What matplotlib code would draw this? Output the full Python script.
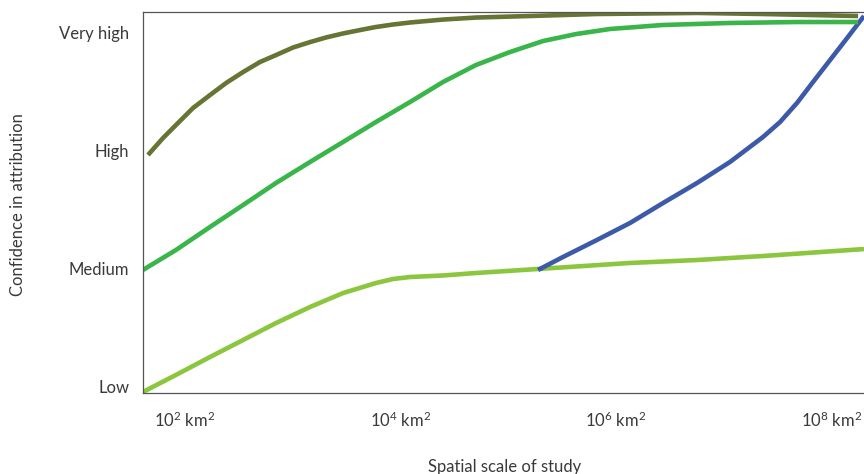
import numpy as np
import matplotlib.pyplot as plt

plt.rcParams['font.family'] = ['Lato', 'DejaVu Sans']
plt.rcParams['mathtext.fontset'] = 'custom'
plt.rcParams['mathtext.rm'] = 'Lato'

# log10 of area (km^2) and confidence (0=Low ... 3=Very high)
olive_lx = [1.656, 1.796, 1.916, 2.074, 2.232, 2.381, 2.539, 2.696, 2.845, 3.003,
            3.161, 3.309, 3.467, 3.625, 3.773, 3.931, 4.089, 4.396, 4.702, 5.203,
            5.825, 6.754, 7.367, 8.249]
olive_y = [1.964, 2.108, 2.218, 2.362, 2.472, 2.574, 2.667, 2.752, 2.811, 2.875,
           2.921, 2.960, 2.994, 3.023, 3.049, 3.070, 3.087, 3.112, 3.129, 3.142,
           3.159, 3.168, 3.159, 3.142]

green_lx = [1.610, 1.916, 2.232, 2.539, 2.845, 3.161, 3.467, 3.773, 4.089, 4.396,
            4.702, 5.018, 5.324, 5.630, 5.946, 6.438, 7.060, 7.682, 8.249]
green_y = [0.990, 1.159, 1.354, 1.540, 1.727, 1.905, 2.074, 2.244, 2.413, 2.583,
           2.727, 2.837, 2.930, 2.989, 3.032, 3.066, 3.083, 3.091, 3.091]

light_lx = [1.610, 1.916, 2.232, 2.539, 2.845, 3.161, 3.467, 3.773, 3.931, 4.089,
            4.396, 4.702, 5.278, 6.132, 6.754, 7.367, 8.304]
light_y = [-0.044, 0.100, 0.252, 0.396, 0.540, 0.676, 0.794, 0.879, 0.913, 0.930,
           0.943, 0.964, 0.998, 1.049, 1.074, 1.108, 1.167]

blue_lx = [5.278, 5.510, 5.825, 6.132, 6.438, 6.754, 7.060, 7.367, 7.525, 7.682,
           7.831, 7.989, 8.147, 8.304]
blue_y = [0.990, 1.100, 1.244, 1.388, 1.557, 1.727, 1.905, 2.117, 2.244, 2.405,
          2.583, 2.769, 2.955, 3.142]

ytick_labels = ['Low', 'Medium', 'High', 'Very high']
xtick_exps = [2, 4, 6, 8]

fig = plt.figure(figsize=(8.64, 4.74), dpi=100)
ax = fig.add_axes([143 / 864, 1 - 393 / 474, 1 - 143 / 864, (393 - 12) / 474])

lw = 3.3
style = dict(lw=lw, solid_joinstyle='round', solid_capstyle='butt')
ax.plot(10 ** np.array(light_lx), light_y, color='#8cc63f', **style)
ax.plot(10 ** np.array(blue_lx), blue_y, color='#3d5aa8', **style)
ax.plot(10 ** np.array(green_lx), green_y, color='#39b54a', **style)
ax.plot(10 ** np.array(olive_lx), olive_y, color='#667534', **style)

ax.set_xscale('log')
ax.set_xlim(10 ** 1.61, 10 ** 8.304)
ax.set_ylim(-0.053, 3.176)

ax.set_yticks(range(4))
ax.set_yticklabels(ytick_labels)
ax.set_xticks([10.0 ** e for e in xtick_exps])
ax.set_xticklabels([r'$\mathregular{10^{%d}}$ km$\mathregular{^{2}}$' % e for e in xtick_exps])
ax.minorticks_off()
ax.tick_params(length=0, labelsize=12, colors='#3a3a3a')
ax.tick_params(axis='y', pad=10)
ax.tick_params(axis='x', pad=13)

for s in ['left', 'bottom', 'top']:
    ax.spines[s].set_color('#555555')
    ax.spines[s].set_linewidth(0.9)
ax.spines['right'].set_visible(False)

fig.text(18 / 864, 1 - 205 / 474, 'Confidence in attribution', rotation=90,
         ha='center', va='center', fontsize=12, color='#3a3a3a')
fig.text(505 / 864, 1 - 467 / 474, 'Spatial scale of study',
         ha='center', va='center', fontsize=12, color='#3a3a3a')

fig.savefig('out.png', dpi=100)
